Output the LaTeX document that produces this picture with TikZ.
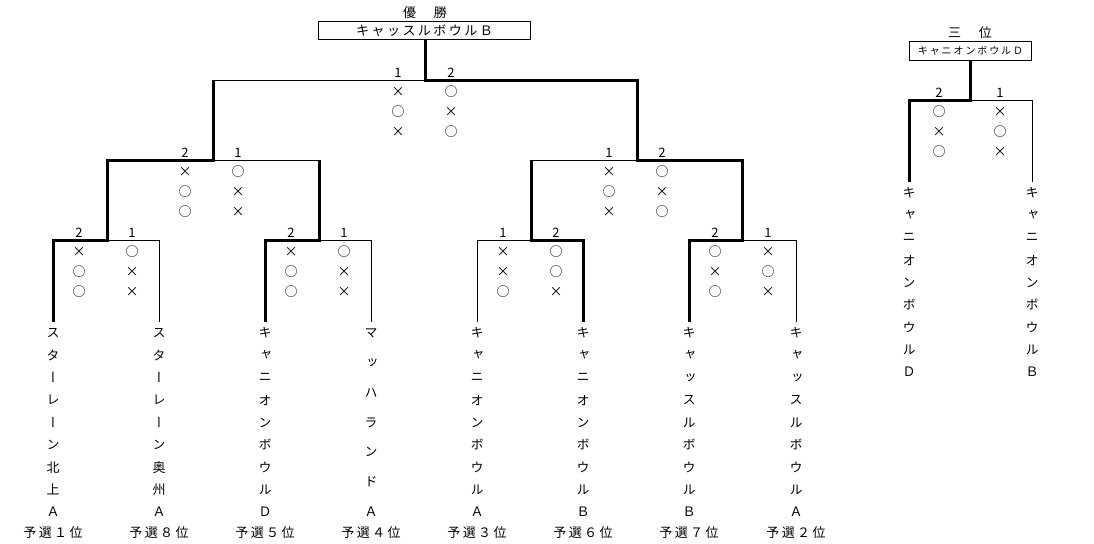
\documentclass[tikz,border=0pt]{standalone}
\usepackage{fontspec}
\setmainfont{Noto Sans CJK JP}
\newfontfamily\gothic[LetterSpace=19]{Noto Sans CJK JP}
\newfontfamily\tate[RawFeature=+vert]{Noto Sans CJK JP}

\begin{document}
\begin{tikzpicture}[x=1pt,y=1pt]
    \tikzstyle{every node}+=[inner sep=0pt]
    \tikzstyle{thinline}=[black,line width=1pt]
    \tikzstyle{winline}=[black,line width=3pt]
    \tikzstyle{scorelbl}=[font=\fontsize{13}{13}\selectfont]
    \tikzstyle{resmark}=[font=\fontsize{13}{13}\selectfont]
    \tikzstyle{namechar}=[font=\tate\fontsize{13}{13}\selectfont]
    \tikzstyle{ranklbl}=[font=\gothic\fontsize{13}{13}\selectfont]
    \tikzstyle{champbox}=[draw,line width=1pt,minimum width=212,minimum height=18,font=\gothic\fontsize{13}{13}\selectfont]
    \tikzstyle{thirdbox}=[draw,line width=1pt,minimum width=122,minimum height=19,font=\gothic\fontsize{10}{10}\selectfont]
    \useasboundingbox (0,0) rectangle (1094,-543);
    % titles
    \node [ranklbl] (wintitle) at (425,-12.5) {優　勝};
    \node [champbox] (champ) at (424.5,-30.5) {キャッスルボウルＢ};
    \node [ranklbl] (thirdtitle) at (970,-33) {三　位};
    \node [thirdbox] (third) at (970.5,-51) {キャニオンボウルＤ};
    % bracket points
    \coordinate (a1) at (53,-322);
    \coordinate (a2) at (159,-322);
    \coordinate (a3) at (265,-322);
    \coordinate (a4) at (371,-322);
    \coordinate (a5) at (477,-322);
    \coordinate (a6) at (583,-322);
    \coordinate (a7) at (689,-322);
    \coordinate (a8) at (796,-322);
    \coordinate (q1) at (107,-240);
    \coordinate (q2) at (319,-240);
    \coordinate (q3) at (531,-240);
    \coordinate (q4) at (742,-240);
    \coordinate (s1) at (213,-160);
    \coordinate (s2) at (637,-160);
    \coordinate (f) at (425,-80);
    \coordinate (b1) at (909,-182);
    \coordinate (b2) at (1032,-182);
    \coordinate (t) at (970,-100);
    % losers
    \draw [thinline] (a2) |- (q1);
    \draw [thinline] (a4) |- (q2);
    \draw [thinline] (a5) |- (q3);
    \draw [thinline] (a8) |- (q4);
    \draw [thinline] (q2 |- s1) -- (s1);
    \draw [thinline] (q3 |- s2) -- (s2);
    \draw [thinline] (s1 |- f) -- (f);
    \draw [thinline] (b2) |- (t);
    % winners
    \draw [winline] (a1) |- (q1) |- (s1) -- (s1 |- f);
    \draw [winline] (a3) |- (q2) -- (q2 |- s1);
    \draw [winline] (a6) |- (q3) -- (q3 |- s2);
    \draw [winline] (a7) |- (q4) |- (s2) |- (f) -- (f |- champ.south);
    \draw [winline] (b1) |- (t) -- (t |- third.south);
    % scores and results
    \foreach \xl/\xr/\ly/\sl/\sr/\ml/\mr/\id in {
        398/451/80/1/2/{×,○,×}/{○,×,○}/f,
        185/238/160/2/1/{×,○,○}/{○,×,×}/s1,
        609/662/160/1/2/{×,○,×}/{○,×,○}/s2,
        79/132/240/2/1/{×,○,○}/{○,×,×}/q1,
        291/344/240/2/1/{×,○,○}/{○,×,×}/q2,
        503/556/240/1/2/{×,×,○}/{○,○,×}/q3,
        715/768/240/2/1/{○,×,○}/{×,○,×}/q4,
        939/1000/100/2/1/{○,×,○}/{×,○,×}/t}{
        \node [scorelbl] (\id-sl) at (\xl,{-(\ly-7)}) {\sl};
        \node [scorelbl] (\id-sr) at (\xr,{-(\ly-7)}) {\sr};
        \foreach \m [count=\k] in \ml
            \node [resmark] (\id-l\k) at (\xl,{-(\ly+12+20*(\k-1))}) {\m};
        \foreach \m [count=\k] in \mr
            \node [resmark] (\id-r\k) at (\xr,{-(\ly+12+20*(\k-1))}) {\m};
    }
    % team names
    \foreach \x/\top/\n/\name/\id in {
        53/333/9/{ス,タ,ー,レ,ー,ン,北,上,Ａ}/a1,
        159/333/9/{ス,タ,ー,レ,ー,ン,奥,州,Ａ}/a2,
        265/333/9/{キ,ャ,ニ,オ,ン,ボ,ウ,ル,Ｄ}/a3,
        371/333/7/{マ,ッ,ハ,ラ,ン,ド,Ａ}/a4,
        477/333/9/{キ,ャ,ニ,オ,ン,ボ,ウ,ル,Ａ}/a5,
        583/333/9/{キ,ャ,ニ,オ,ン,ボ,ウ,ル,Ｂ}/a6,
        689/333/9/{キ,ャ,ッ,ス,ル,ボ,ウ,ル,Ｂ}/a7,
        796/333/9/{キ,ャ,ッ,ス,ル,ボ,ウ,ル,Ａ}/a8,
        909/193/9/{キ,ャ,ニ,オ,ン,ボ,ウ,ル,Ｄ}/b1,
        1032/193/9/{キ,ャ,ニ,オ,ン,ボ,ウ,ル,Ｂ}/b2}{
        \foreach \c [count=\k] in \name
            \node [namechar] (\id-c\k) at (\x,{-(\top+(\k-1)*179/(\n-1))}) {\c};
    }
    % preliminary ranks
    \foreach \x/\r/\id in {53/１/a1,159/８/a2,265/５/a3,371/４/a4,477/３/a5,583/６/a6,689/７/a7,796/２/a8}
        \node [ranklbl] (\id-rank) at (\x,-533) {予選\r 位};
\end{tikzpicture}
\end{document}
